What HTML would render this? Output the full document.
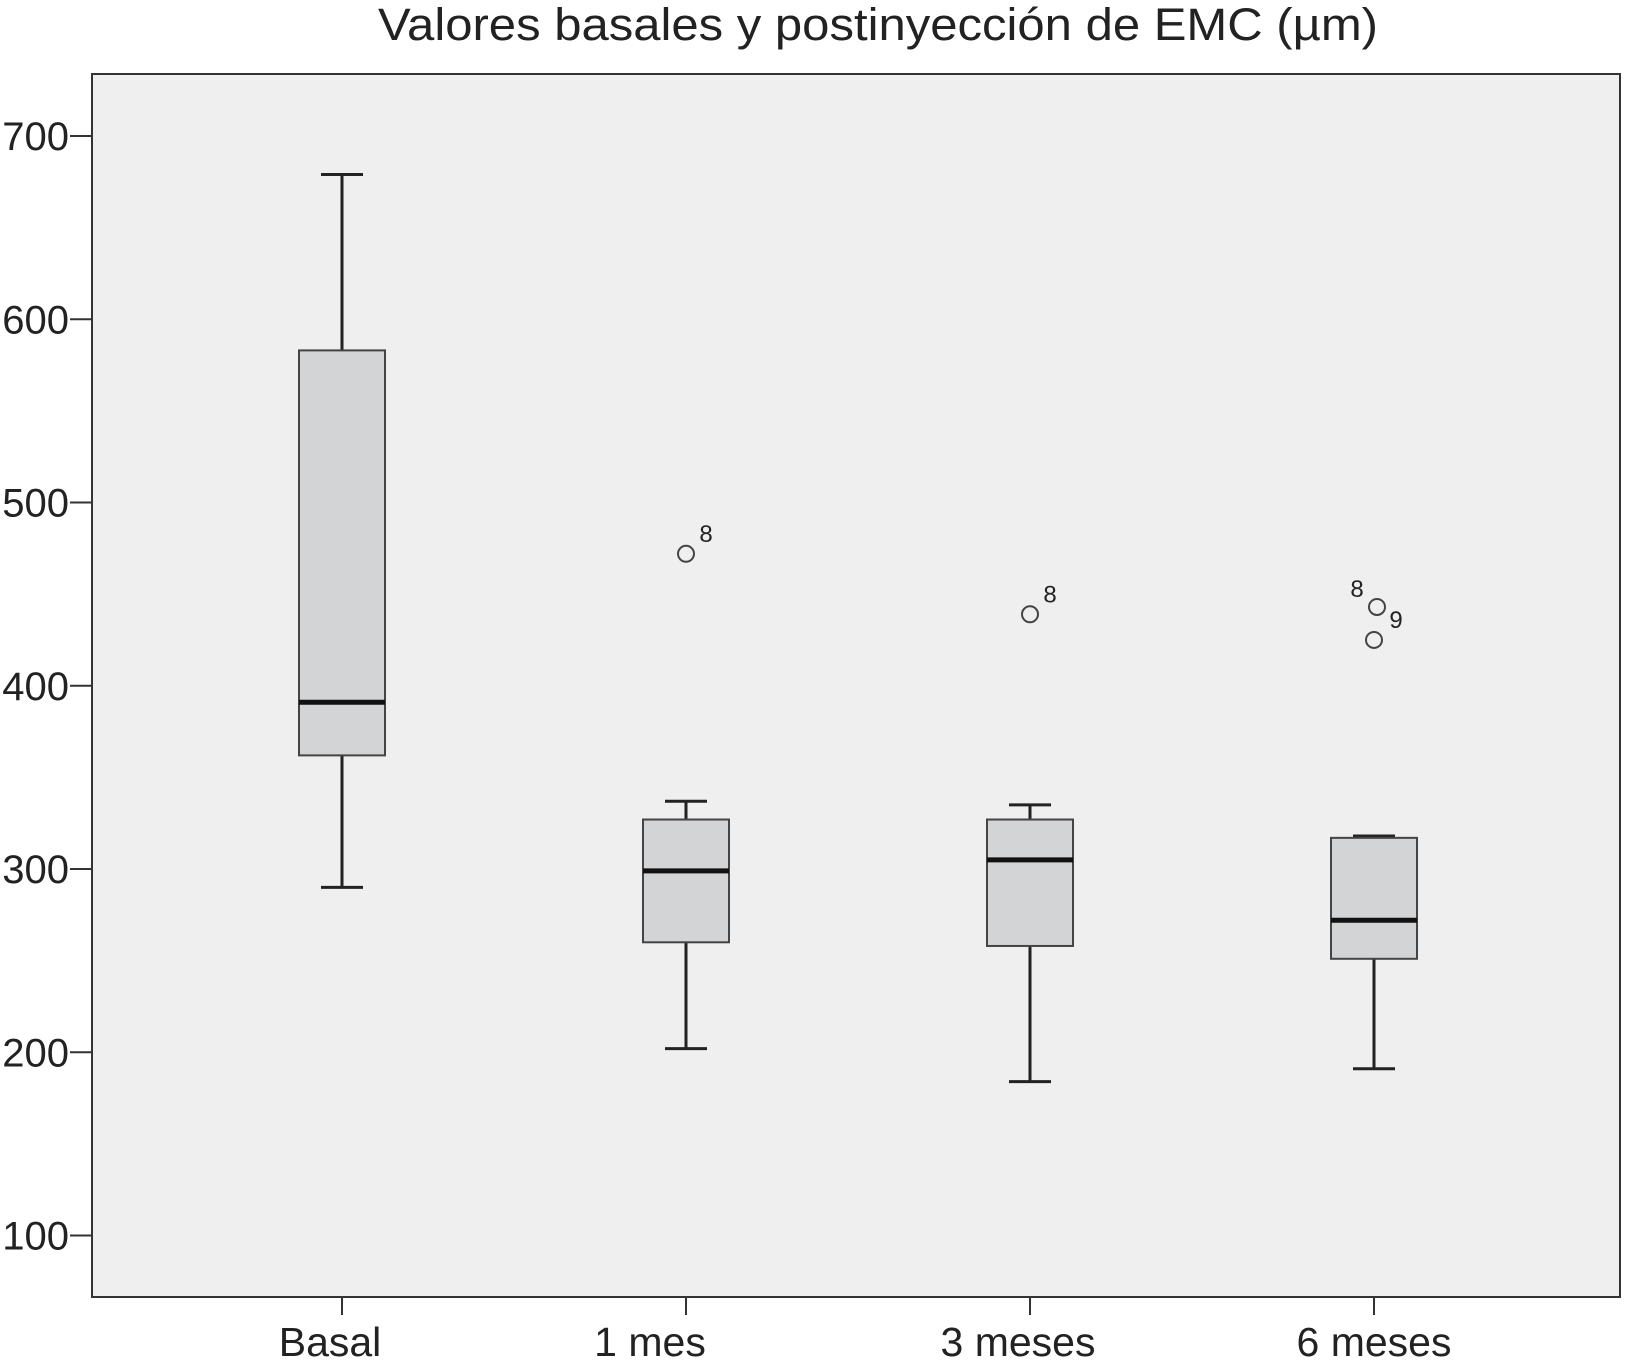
<!DOCTYPE html>
<html><head><meta charset="utf-8"><style>
html,body{margin:0;padding:0;background:#fff;}
svg text{font-family:"Liberation Sans",Arial,sans-serif;fill:#222;}
</style></head><body>
<svg id="chart" width="1625" height="1366" viewBox="0 0 1625 1366" xmlns="http://www.w3.org/2000/svg">
<text x="878" y="40" font-size="45" text-anchor="middle" textLength="1000" lengthAdjust="spacingAndGlyphs">Valores basales y postinyección de EMC (µm)</text>
<rect x="92" y="74" width="1528" height="1223" fill="#efefef" stroke="#333" stroke-width="2"/>
<g id="yaxis"></g>
<g id="xaxis"></g>
<g id="boxes"></g>
</svg>
<script>
const categories=["Basal","1 mes","3 meses","6 meses"];
const whiskerMax=[679,337,335,318];
const q3=[583,327,327,317];
const medians=[391,299,305,272];
const q1=[362,260,258,251];
const whiskerMin=[290,202,184,191];
const outlierValues=[[],[472],[439],[443,425]];
const outlierLabels=[[],["8"],["8"],["8","9"]];
const yTicks=[100,200,300,400,500,600,700];

const NS="http://www.w3.org/2000/svg";
function y(v){return 136+(700-v)*1.8325;}
function x(i){return 342+i*344;}
const labelShift=[-12,-36,-12,0];
function mk(t,a,p){const e=document.createElementNS(NS,t);for(const k in a)e.setAttribute(k,a[k]);p.appendChild(e);return e;}
const ya=document.getElementById('yaxis'),xa=document.getElementById('xaxis'),bx=document.getElementById('boxes');
yTicks.forEach(v=>{
 const l=mk('line',{x1:70,x2:92,y1:y(v),y2:y(v),stroke:'#333','stroke-width':2},ya);
 
 
 const t=mk('text',{x:69,y:y(v)+14,'font-size':40,'text-anchor':'end'},ya);
 t.textContent=v;
 
 
});
categories.forEach((c,i)=>{
 const cx=x(i);
 const tk=mk('line',{x1:cx,x2:cx,y1:1297,y2:1315,stroke:'#333','stroke-width':2},xa);
 
 
 const t=mk('text',{x:cx+labelShift[i],y:1356,'font-size':41,'text-anchor':'middle'},xa);
 t.textContent=c;
 
 
 const g=mk('g',{},bx);
 
 
 mk('line',{x1:cx,x2:cx,y1:y(whiskerMax[i]),y2:y(q3[i]),stroke:'#222','stroke-width':3},g);
 mk('line',{x1:cx,x2:cx,y1:y(q1[i]),y2:y(whiskerMin[i]),stroke:'#222','stroke-width':3},g);
 mk('line',{x1:cx-21,x2:cx+21,y1:y(whiskerMax[i]),y2:y(whiskerMax[i]),stroke:'#222','stroke-width':3},g);
 mk('line',{x1:cx-21,x2:cx+21,y1:y(whiskerMin[i]),y2:y(whiskerMin[i]),stroke:'#222','stroke-width':3},g);
 mk('rect',{x:cx-43,y:y(q3[i]),width:86,height:y(q1[i])-y(q3[i]),fill:'#d3d4d6',stroke:'#444','stroke-width':2},g);
 mk('line',{x1:cx-43,x2:cx+43,y1:y(medians[i]),y2:y(medians[i]),stroke:'#111','stroke-width':5},g);
 outlierValues[i].forEach((v,j)=>{
  const ox=cx-(i===3?(j===0?-3:0):0);
  const o=mk('circle',{cx:ox,cy:y(v),r:8,fill:'none',stroke:'#444','stroke-width':2},g);
  
  
  const lt=mk('text',{x:(i===3&&j===0)?ox-20:ox+20,y:y(v)-(i===3&&j===0?10:12),'font-size':24,'text-anchor':'middle'},g);
  if(i===3&&j===1){lt.setAttribute('x',ox+22);lt.setAttribute('y',y(v)-12);}
  lt.textContent=outlierLabels[i][j];
  
  
 });
});
</script>
</body></html>
